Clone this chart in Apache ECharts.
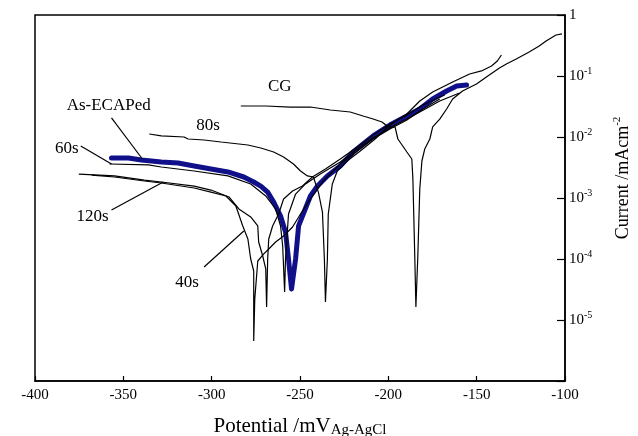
<!DOCTYPE html>
<html>
<head>
<meta charset="utf-8">
<script src="https://cdn.jsdelivr.net/npm/echarts@6/dist/echarts.min.js"></script>
<style>html,body{margin:0;padding:0;background:#fff;}#c{width:638px;height:436px;}</style>
</head>
<body>
<div id="c"></div>
<script>
// Potential (mV vs Ag-AgCl) and current density (mA/cm^2) for each curve
const cgPotential = [-283.5, -269.4, -255.4, -244.1, -232.8, -221.6, -214.3, -208.6, -203.6, -200.7, -197.9, -196.2, -194.6, -189.5, -186.7, -186.1, -185.0, -184.4, -183.3, -182.2, -181.0, -179.4, -176.5, -174.9, -170.9, -167.0, -163.6, -158.0, -150.1, -144.5, -137.1, -133.2, -127.6, -120.3, -114.6, -110.7, -105.1, -101.7];
const cgCurrent = [0.0322, 0.0322, 0.0310, 0.0310, 0.0277, 0.0257, 0.0221, 0.0197, 0.0176, 0.0151, 0.0146, 0.0146, 0.00927, 0.00568, 0.00436, 0.00205, 0.000100, 0.0000163, 0.000112, 0.00141, 0.00404, 0.00635, 0.00927, 0.0146, 0.0197, 0.0288, 0.0420, 0.0568, 0.0740, 0.0963, 0.135, 0.157, 0.190, 0.247, 0.310, 0.375, 0.470, 0.489];

const s80Potential = [-335.3, -328.5, -315.6, -313.3, -304.3, -294.7, -279.5, -272.2, -264.9, -259.3, -253.7, -249.7, -245.8, -242.4, -239.6, -237.3, -236.2, -235.6, -234.5, -234.0, -231.7, -228.9, -223.3, -215.9, -207.5, -199.1, -189.5, -182.2, -174.9, -163.6, -154.0, -147.3, -141.6, -138.3, -136.0];
const s80Current = [0.0112, 0.0104, 0.0100, 0.00927, 0.00893, 0.00828, 0.00739, 0.00660, 0.00568, 0.00470, 0.00361, 0.00277, 0.00230, 0.00221, 0.00125, 0.000589, 0.000100, 0.0000197, 0.000100, 0.000547, 0.00170, 0.00277, 0.00404, 0.00589, 0.00927, 0.0157, 0.0238, 0.0389, 0.0547, 0.0798, 0.108, 0.121, 0.146, 0.176, 0.221];

const ecapPotential = [-356.7, -347.1, -339.8, -328.5, -319.0, -309.9, -300.4, -290.8, -281.8, -276.2, -272.2, -268.3, -264.9, -261.0, -258.2, -256.5, -254.8, -252.5, -250.8, -248.6, -244.1, -240.1, -234.5, -227.2, -219.9, -208.6, -199.1, -189.5, -182.2, -174.9, -167.0, -161.3, -155.7];
const ecapCurrent = [0.00453, 0.00453, 0.00420, 0.00389, 0.00375, 0.00335, 0.00299, 0.00267, 0.00221, 0.00183, 0.00157, 0.00125, 0.000860, 0.000507, 0.000277, 0.000100, 0.0000322, 0.000100, 0.000348, 0.000507, 0.00108, 0.00157, 0.00230, 0.00335, 0.00568, 0.0104, 0.0157, 0.0221, 0.0288, 0.0420, 0.0568, 0.0686, 0.0712];

const s60Potential = [-357.8, -335.8, -328.5, -309.9, -290.8, -277.9, -269.4, -263.8, -261.0, -259.8, -258.7, -258.2, -256.5, -252.5, -246.9, -238.5, -227.2, -217.6, -208.6, -199.1, -189.5, -182.2, -170.9, -159.7];
const s60Current = [0.00361, 0.00348, 0.00322, 0.00277, 0.00230, 0.00170, 0.00108, 0.000661, 0.000348, 0.000163, 0.0000288, 0.000100, 0.000547, 0.00116, 0.00170, 0.00247, 0.00389, 0.00635, 0.00963, 0.0141, 0.0197, 0.0257, 0.0389, 0.0527];

const s40Potential = [-367.9, -355.0, -338.1, -328.5, -309.9, -300.4, -291.9, -286.3, -282.4, -279.5, -277.9, -276.2, -276.2, -275.6, -273.9, -270.5, -267.7, -263.8, -259.3, -254.2, -249.7, -244.1, -236.8, -227.2, -217.6, -208.6, -199.1, -189.5, -180.5, -170.9];
const s40Current = [0.00238, 0.00221, 0.00190, 0.00176, 0.00146, 0.00125, 0.00108, 0.000740, 0.000348, 0.000213, 0.000100, 0.0000636, 0.00000453, 0.0000221, 0.0000927, 0.000121, 0.000146, 0.000190, 0.000238, 0.000335, 0.000547, 0.000963, 0.00190, 0.00361, 0.00589, 0.00927, 0.0135, 0.0190, 0.0288, 0.0420];

const s120Potential = [-375.2, -355.0, -338.1, -328.5, -309.9, -300.4, -290.2, -284.6, -277.9, -273.9, -273.4, -271.1, -269.4, -268.9, -268.3, -267.7, -265.5, -262.1, -259.3, -254.2, -248.6, -243.0, -235.6, -227.2, -217.6, -208.6, -199.1, -189.5, -180.5, -168.1];
const s120Current = [0.00247, 0.00230, 0.00197, 0.00183, 0.00157, 0.00135, 0.00104, 0.000661, 0.000489, 0.000348, 0.000190, 0.000112, 0.0000686, 0.0000163, 0.000100, 0.000213, 0.000348, 0.000547, 0.000963, 0.00130, 0.00157, 0.00221, 0.00299, 0.00436, 0.00686, 0.0108, 0.0163, 0.0229, 0.0335, 0.0489];

// Annotation labels (data units)
const annotationTexts = ['CG', '80s', 'As-ECAPed', '60s', '120s', '40s'];
const annotationPotentials = [-261.5, -302.1, -358.3, -382.0, -367.4, -313.9];
const annotationCurrents = [0.066, 0.0157, 0.0322, 0.00635, 0.000489, 0.0000404];
const leaderPotentials = [[-356.7, -339.2], [-374.1, -356.7], [-356.7, -327.4], [-304.3, -281.8]];
const leaderCurrents = [[0.0205, 0.00436], [0.00711, 0.00361], [0.000636, 0.00183], [0.0000740, 0.000288]];

// Axis ticks
const xMin = -400, xMax = -100, xStep = 50;
const yMin = 1e-6, yMax = 1;

const FONT = 'Liberation Serif';
const zip = (a, b) => a.map((v, i) => [v, b[i]]);

const blackCurves = [
  zip(cgPotential, cgCurrent),
  zip(s80Potential, s80Current),
  zip(s60Potential, s60Current),
  zip(s40Potential, s40Current),
  zip(s120Potential, s120Current)
];

const series = [];
series.push({
  type: 'line', data: zip(ecapPotential, ecapCurrent), showSymbol: false, z: 2,
  lineStyle: { color: '#10108a', width: 5, cap: 'round', join: 'round' }
});
blackCurves.forEach(d => series.push({
  type: 'line', data: d, showSymbol: false, z: 3,
  lineStyle: { color: '#000', width: 1.2 }
}));
leaderPotentials.forEach((p, i) => series.push({
  type: 'line', data: zip(p, leaderCurrents[i]), showSymbol: false, z: 3,
  lineStyle: { color: '#000', width: 1.2 }
}));
series.push({
  type: 'scatter', symbolSize: 2, itemStyle: { color: 'rgba(255,255,255,0)' }, z: 4,
  data: annotationTexts.map((t, i) => ({ value: [annotationPotentials[i], annotationCurrents[i]], name: t })),
  label: {
    show: true, position: 'inside', formatter: p => p.name, color: '#000',
    fontFamily: FONT, fontSize: 17, textBorderWidth: 0, textBorderColor: 'transparent', opacity: 1
  }
});

const chart = echarts.init(document.getElementById('c'), null, { renderer: 'canvas' });
chart.setOption({
  animation: false,
  backgroundColor: '#fff',
  grid: { left: 35, right: 73, top: 15, bottom: 55, show: true, borderColor: '#000', borderWidth: 1.5, outerBoundsMode: 'none', containLabel: false },
  xAxis: {
    type: 'value', min: xMin, max: xMax, interval: xStep,
    axisLine: { lineStyle: { color: '#000', width: 1.5 } },
    axisTick: { inside: true, length: 5, lineStyle: { color: '#000', width: 1.2 } },
    splitLine: { show: false },
    axisLabel: { color: '#000', fontFamily: FONT, fontSize: 15, margin: 7 },
    name: 'Potential /mV{sub|Ag-AgCl}', nameLocation: 'middle', nameGap: 33,
    nameTextStyle: {
      color: '#000', fontFamily: FONT, fontSize: 21, lineHeight: 24,
      rich: { sub: { fontFamily: FONT, fontSize: 15, color: '#000', verticalAlign: 'bottom', lineHeight: 15 } }
    }
  },
  yAxis: {
    type: 'log', logBase: 10, min: yMin, max: yMax, position: 'right',
    axisLine: { show: true, lineStyle: { color: '#000', width: 1.5 } },
    axisTick: { show: true, inside: true, length: 8, lineStyle: { color: '#000', width: 1.2 } },
    minorTick: { show: false },
    splitLine: { show: false },
    axisLabel: {
      color: '#000', fontFamily: FONT, fontSize: 15, margin: 4, lineHeight: 20,
      formatter: v => {
        const e = Math.round(Math.log10(v));
        if (e === 0) return '1';
        if (e <= -6) return '';
        return '10{sup|' + e + '}';
      },
      rich: { sup: { fontFamily: FONT, fontSize: 10, color: '#000', verticalAlign: 'top', lineHeight: 20 } }
    },
    name: 'Current /mAcm{sup|-2}', nameLocation: 'middle', nameGap: 47, nameRotate: 90,
    nameTextStyle: {
      color: '#000', fontFamily: FONT, fontSize: 18, lineHeight: 22, padding: [0, 0, 0, 40],
      rich: { sup: { fontFamily: FONT, fontSize: 11, color: '#000', verticalAlign: 'top', lineHeight: 22 } }
    }
  },
  series: series
});
</script>
</body>
</html>
